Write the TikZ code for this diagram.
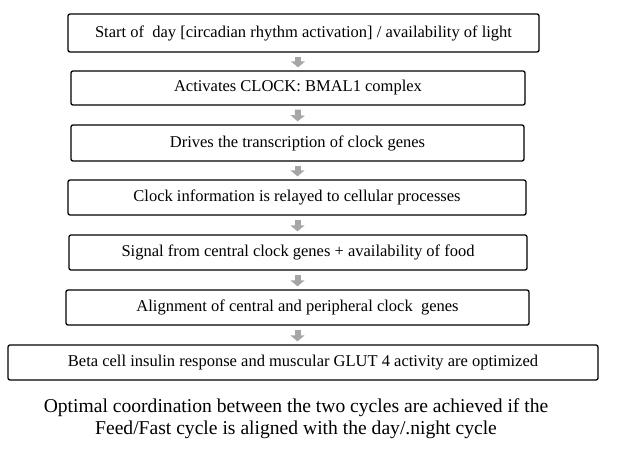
\documentclass[tikz,border=0pt]{standalone}
\usepackage{fontspec}
\setmainfont{Liberation Serif}
\usetikzlibrary{arrows.meta}
\begin{document}
\begin{tikzpicture}[x=1pt,y=-1pt,
 box/.style={draw=black,line width=1.3pt,rounded corners=2pt,fill=white,inner sep=0pt,font=\fontsize{16.5}{18}\selectfont},
 garrow/.style={draw=gray!70,line width=6pt,-{Triangle[width=14pt,length=6pt]},shorten <=4pt,shorten >=3pt}]
\useasboundingbox (0,0) rectangle (622,450);
\node[box,minimum width=471pt,minimum height=38pt] (b1) at (303.5,33) {Start of \ day [circadian rhythm activation] / availability of light};
\node[box,minimum width=454pt,minimum height=34pt] (b2) at (298,88) {Activates CLOCK: BMAL1 complex};
\node[box,minimum width=453pt,minimum height=36pt] (b3) at (297.5,143) {Drives the transcription of clock genes};
\node[box,minimum width=458pt,minimum height=35pt] (b4) at (297,197.5) {Clock information is relayed to cellular processes};
\node[box,minimum width=458pt,minimum height=35pt] (b5) at (298,252.5) {Signal from central clock genes + availability of food};
\node[box,minimum width=463pt,minimum height=35pt] (b6) at (297.5,307.5) {Alignment of central and peripheral clock \ genes};
\node[box,minimum width=590pt,minimum height=35pt] (b7) at (303,362.5) {Beta cell insulin response and muscular GLUT 4 activity are optimized};
\node[align=center,font=\fontsize{19.6}{22}\selectfont,inner sep=0pt] (t) at (296,419) {Optimal coordination between the two cycles are achieved if the\\Feed/Fast cycle is aligned with the day/.night cycle};
\draw[garrow] (b1.south -| b2) -- (b2.north);
\draw[garrow] (b2.south) -- (b3.north);
\draw[garrow] (b3.south) -- (b4.north -| b3);
\draw[garrow] (b4.south -| b3) -- (b5.north -| b3);
\draw[garrow] (b5.south -| b3) -- (b6.north -| b3);
\draw[garrow] (b6.south -| b3) -- (b7.north -| b3);
\end{tikzpicture}
\end{document}
